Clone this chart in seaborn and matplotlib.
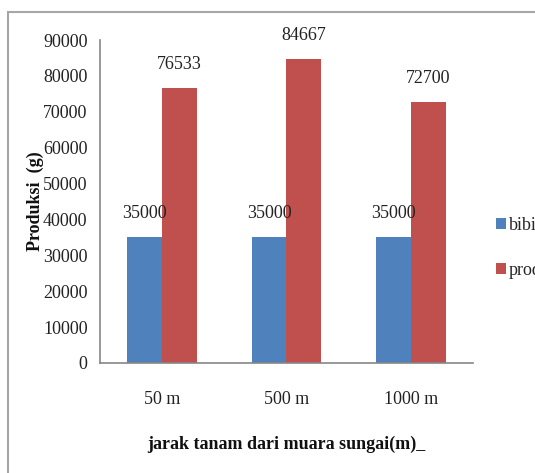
import matplotlib
matplotlib.use("Agg")
import matplotlib.pyplot as plt
from matplotlib.patches import Rectangle
from matplotlib.ticker import FixedLocator
import seaborn as sns
import pandas as pd

# Production data per planting distance from the river mouth
jarak = ["50 m", "500 m", "1000 m"]
bibit = [35000, 35000, 35000]
produksi = [76533, 84667, 72700]
series_names = ["bibit", "produksi"]
y_ticks = [0, 10000, 20000, 30000, 40000, 50000, 60000, 70000, 80000, 90000]

df = pd.DataFrame({
    "jarak": jarak * 2,
    "seri": [series_names[0]] * len(jarak) + [series_names[1]] * len(jarak),
    "nilai": bibit + produksi,
})

sns.set_style("white")
plt.rcParams["font.family"] = ["Liberation Serif", "DejaVu Serif"]

fig = plt.figure(figsize=(5.35, 4.73), dpi=100)
ax = fig.add_axes([0.187, 0.2326, 0.884 - 0.187, 0.9154 - 0.2326])

sns.barplot(data=df, x="jarak", y="nilai", hue="seri", hue_order=series_names,
            order=jarak, palette=["#4F81BD", "#C0504D"], width=0.56, gap=0,
            saturation=1, errorbar=None, linewidth=0, ax=ax)

ax.set_ylim(0, 90000)
ax.set_xlim(-0.5, len(jarak) - 0.5)
ax.yaxis.set_major_locator(FixedLocator(y_ticks))
ax.set_yticklabels([str(v) for v in y_ticks])

# category separators as tick marks on the x axis
ax.xaxis.set_minor_locator(FixedLocator([i - 0.5 for i in range(len(jarak) + 1)]))
ax.tick_params(axis="x", which="major", length=0, pad=20, labelsize=13, colors="#222222")
ax.tick_params(axis="x", which="minor", length=6, width=1, color="#868686", direction="out")
ax.tick_params(axis="y", which="major", length=5, width=1, color="#868686",
               direction="out", labelsize=13, labelcolor="#222222", pad=4)

for side in ["top", "right"]:
    ax.spines[side].set_visible(False)
for side in ["left", "bottom"]:
    ax.spines[side].set_color("#868686")
    ax.spines[side].set_linewidth(1.2)

for cont in ax.containers:
    ax.bar_label(cont, labels=[f"{int(round(b.get_height()))}" for b in cont],
                 padding=11, fontsize=13, color="#222222")

ax.set_xlabel("jarak tanam dari muara sungai(m)_", fontsize=13, fontweight="bold",
              labelpad=20, color="#111111")
ax.set_ylabel("Produksi  (g)", fontsize=13, fontweight="bold", labelpad=-1,
              color="#111111")

leg = ax.legend(loc="upper left", bbox_to_anchor=(1.042, 0.475), frameon=False,
                handlelength=0.55, handleheight=0.55, handletextpad=0.15,
                labelspacing=1.55, fontsize=13, borderaxespad=0)

# outer chart-area frame
fig.patches.append(Rectangle((8 / 535, -0.2), 1.2, 1.2 - 12 / 473,
                             transform=fig.transFigure, fill=False,
                             edgecolor="#a6a6a6", linewidth=1.5, zorder=0))

fig.savefig("out.png", dpi=100)
